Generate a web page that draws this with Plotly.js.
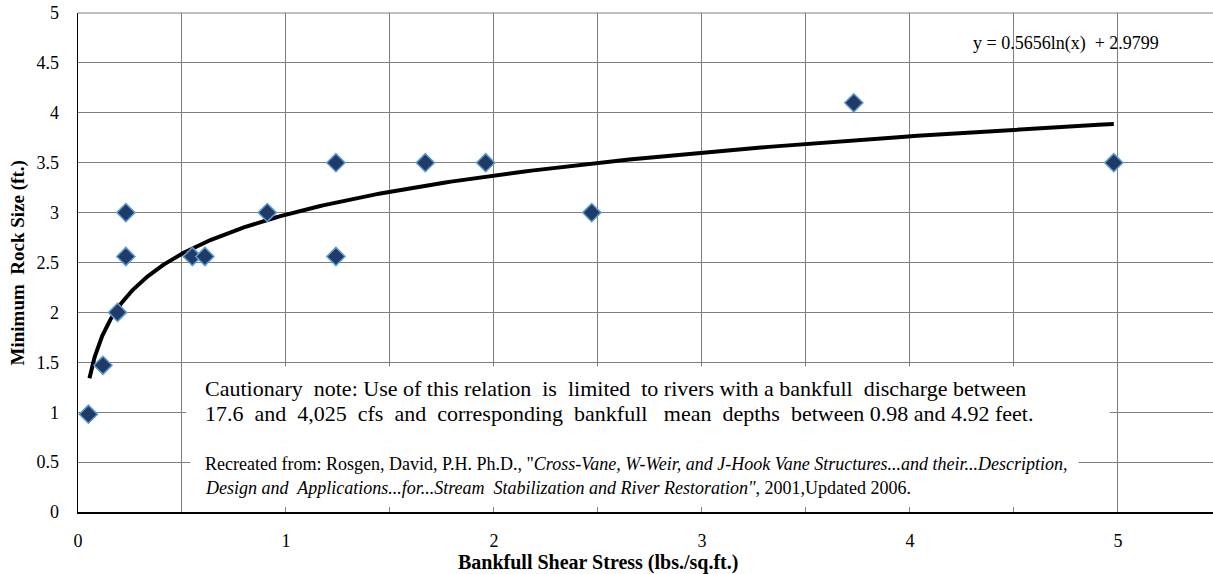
<!DOCTYPE html>
<html><head><meta charset="utf-8">
<script src="https://cdn.plot.ly/plotly-3.0.1.min.js"></script>
<style>html,body{margin:0;padding:0;background:#fff}#chart{width:1213px;height:574px}</style>
</head><body><div id="chart"></div>
<script>
// Data
const shearStress = [0.05, 0.12, 0.19, 0.23, 0.23, 0.55, 0.61, 0.91, 1.24, 1.24, 1.67, 1.96, 2.47, 3.73, 4.98];
const rockSize    = [0.98, 1.47, 2.0, 3.0, 2.56, 2.56, 2.56, 3.0, 3.5, 2.56, 3.5, 3.5, 3.0, 4.1, 3.5];
// Logarithmic trendline coefficients: y = a ln(x) + b
const trendA = 0.5656;
const trendB = 2.9799;
const trendXMin = 0.055, trendXMax = 4.98;
const xTickVals = [0, 1, 2, 3, 4, 5];
const yTickVals = [0, 0.5, 1, 1.5, 2, 2.5, 3, 3.5, 4, 4.5, 5];

const tx = [], ty = [];
const N = 300;
for (let i = 0; i <= N; i++) {
  const x = trendXMin * Math.pow(trendXMax / trendXMin, i / N);
  tx.push(x); ty.push(trendA * Math.log(x) + trendB);
}

const font = "Liberation Serif";
const grid = "#7f7f7f";
const sp = '&nbsp;';

const traces = [
  {x: tx, y: ty, mode: 'lines', line: {color: '#000', width: 4}, hoverinfo: 'skip', showlegend: false},
  {x: shearStress, y: rockSize, mode: 'markers', showlegend: false,
   marker: {symbol: 'diamond', size: 14, color: '#1f3b66', line: {color: '#5b9bd5', width: 1.5}}}
];

const layout = {
  width: 1213, height: 574,
  margin: {l: 78, r: 0, t: 13, b: 62},
  paper_bgcolor: '#fff', plot_bgcolor: '#fff',
  font: {family: font, color: '#000', size: 18},
  xaxis: {
    range: [0, 5.457], tickvals: xTickVals, ticktext: xTickVals.map(String),
    showgrid: false, zeroline: false, showline: true, linecolor: '#000', linewidth: 1.5,
    ticks: '', ticklabelstandoff: 12, tickfont: {size: 18, family: font},
    minor: {dtick: 0.5, tick0: 0, showgrid: true, gridcolor: grid, gridwidth: 1}
  },
  yaxis: {
    range: [0, 5], tickvals: yTickVals, ticktext: yTickVals.map(String),
    showgrid: true, gridcolor: grid, gridwidth: 1, zeroline: false,
    showline: true, linecolor: '#000', linewidth: 1.5, mirror: false,
    ticks: '', ticklabelstandoff: 14, tickfont: {size: 18, family: font}
  },
  shapes: [
    {type: 'line', xref: 'paper', yref: 'paper', x0: 0, x1: 1, y0: 1, y1: 1, line: {color: grid, width: 1}},
    {type: 'rect', xref: 'x', yref: 'y', x0: 0.52, x1: 4.96, y0: 0.72, y1: 1.46, fillcolor: '#fff', line: {width: 0}, layer: 'between'},
    {type: 'rect', xref: 'x', yref: 'y', x0: 0.54, x1: 4.81, y0: 0.05, y1: 0.72, fillcolor: '#fff', line: {width: 0}, layer: 'between'}
  ],
  annotations: [
    {xref: 'paper', yref: 'paper', x: 0.458, y: -0.102, xanchor: 'center', yanchor: 'middle', showarrow: false,
     text: '<b>Bankfull Shear Stress (lbs./sq.ft.)</b>', font: {size: 20, family: font}},
    {xref: 'paper', yref: 'paper', x: -0.0529, y: 0.5, xanchor: 'center', yanchor: 'middle', showarrow: false, textangle: -90,
     text: '<b>Minimum' + sp + sp + 'Rock' + sp + 'Size (ft.)</b>', font: {size: 19, family: font}},
    {xref: 'x', yref: 'y', x: 4.75, y: 4.69, text: 'y = 0.5656ln(x)' + sp + sp + '+ 2.9799', showarrow: false, font: {size: 18, family: font}},
    {xref: 'x', yref: 'y', x: 0.601, y: 1.242, xanchor: 'left', yanchor: 'middle', align: 'left', showarrow: false,
     text: 'Cautionary' + sp + ' note: Use of this relation' + sp + ' is' + sp + ' limited' + sp + ' to rivers with a bankfull' + sp + ' discharge between',
     font: {size: 22, family: font}},
    {xref: 'x', yref: 'y', x: 0.601, y: 0.992, xanchor: 'left', yanchor: 'middle', align: 'left', showarrow: false,
     text: '17.6' + sp + ' and' + sp + ' 4,025' + sp + ' cfs' + sp + ' and' + sp + ' corresponding' + sp + ' bankfull' + sp + sp + ' mean' + sp + ' depths' + sp + ' between 0.98 and 4.92 feet.',
     font: {size: 22, family: font}},
    {xref: 'x', yref: 'y', x: 0.601, y: 0.481, xanchor: 'left', yanchor: 'middle', align: 'left', showarrow: false,
     text: 'Recreated from: Rosgen, David, P.H. Ph.D., "<i>Cross-Vane, W-Weir, and J-Hook Vane Structures...and their...Description,</i>',
     font: {size: 18, family: font}},
    {xref: 'x', yref: 'y', x: 0.601, y: 0.240, xanchor: 'left', yanchor: 'middle', align: 'left', showarrow: false,
     text: '<i>Design and' + sp + ' Applications...for...Stream' + sp + ' Stabilization and River Restoration"</i>, 2001,Updated 2006.',
     font: {size: 18, family: font}}
  ]
};

Plotly.newPlot('chart', traces, layout, {displayModeBar: false, staticPlot: true});
</script></body></html>
